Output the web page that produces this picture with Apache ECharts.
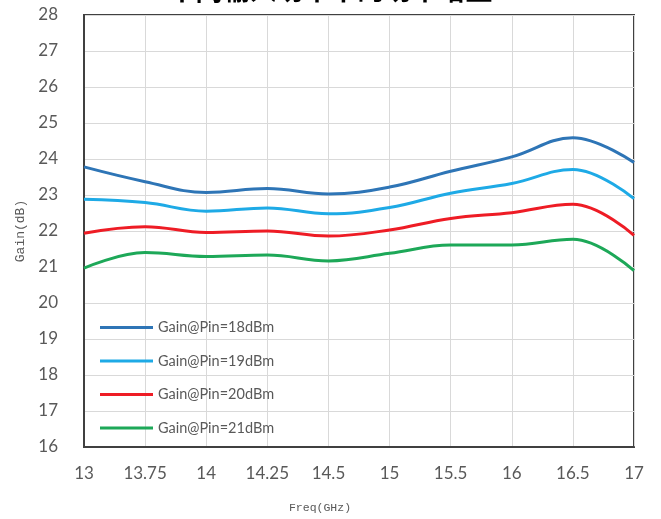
<!DOCTYPE html>
<html>
<head>
<meta charset="utf-8">
<script src="https://cdn.jsdelivr.net/npm/echarts@6/dist/echarts.min.js"></script>
<style>html,body{margin:0;padding:0;background:#fff;}#c{width:661px;height:519px;}</style>
</head>
<body>
<div id="c"></div>
<script>
var categories = ['13','13.75','14','14.25','14.5','15','15.5','16','16.5','17'];
var seriesNames = ['Gain@Pin=18dBm','Gain@Pin=19dBm','Gain@Pin=20dBm','Gain@Pin=21dBm'];
var gain18 = [23.78, 23.37, 23.07, 23.18, 23.03, 23.22, 23.66, 24.06, 24.59, 23.9];
var gain19 = [22.88, 22.79, 22.55, 22.64, 22.48, 22.65, 23.05, 23.32, 23.71, 22.9];
var gain20 = [21.94, 22.12, 21.96, 22.0, 21.86, 22.03, 22.35, 22.51, 22.74, 21.88];
var gain21 = [20.97, 21.4, 21.29, 21.33, 21.17, 21.38, 21.61, 21.61, 21.77, 20.9];
var yTicks = {min: 16, max: 28, interval: 1};
var titleText = '不同输入功率下的功率增益';

var colors = ['#2E75B6', '#1EAAE6', '#EE1C25', '#1DA858'];
var allData = [gain18, gain19, gain20, gain21];

var chart = echarts.init(document.getElementById('c'), null, {renderer: 'canvas'});
var option = {
  animation: false,
  backgroundColor: '#fff',
  graphic: [{
    type: 'text', left: 'center', top: -24,
    style: {text: titleText, font: 'bold 27px "Noto Sans CJK SC"', fill: '#000'}
  }],
  grid: {left: 84, width: 550, top: 15, height: 432, show: true, borderColor: '#404040', borderWidth: 2, containLabel: false},
  legend: {
    orient: 'vertical', left: 95, top: 315,
    icon: 'rect', itemWidth: 53, itemHeight: 3, itemGap: 18.5,
    textStyle: {fontFamily: 'Lato', fontSize: 14.5, color: '#595959'},
    data: seriesNames
  },
  xAxis: {
    type: 'category', data: categories, boundaryGap: false,
    name: 'Freq(GHz)', nameLocation: 'middle', nameGap: 55,
    nameTextStyle: {fontFamily: 'Liberation Mono', fontSize: 11.5, color: '#595959', padding: [0, 78, 0, 0]},
    axisLine: {show: true, lineStyle: {color: '#404040', width: 2}},
    axisTick: {show: false},
    axisLabel: {fontFamily: 'Lato', fontSize: 17, color: '#595959', margin: 18},
    splitLine: {show: true, lineStyle: {color: '#D9D9D9', width: 1}}
  },
  yAxis: {
    type: 'value', min: yTicks.min, max: yTicks.max, interval: yTicks.interval,
    name: 'Gain(dB)', nameLocation: 'middle', nameGap: 55,
    nameTextStyle: {fontFamily: 'Liberation Mono', fontSize: 13, color: '#595959'},
    axisLine: {show: true, lineStyle: {color: '#404040', width: 2}},
    axisTick: {show: false},
    axisLabel: {fontFamily: 'Lato', fontSize: 17, color: '#595959', margin: 26},
    splitLine: {show: true, lineStyle: {color: '#D9D9D9', width: 1}}
  },
  series: seriesNames.map(function (n, i) {
    return {
      name: n, type: 'line', data: allData[i], smooth: 0.4, symbol: 'none',
      lineStyle: {color: colors[i], width: 3}, itemStyle: {color: colors[i]}
    };
  })
};
chart.setOption(option);
</script>
</body>
</html>
